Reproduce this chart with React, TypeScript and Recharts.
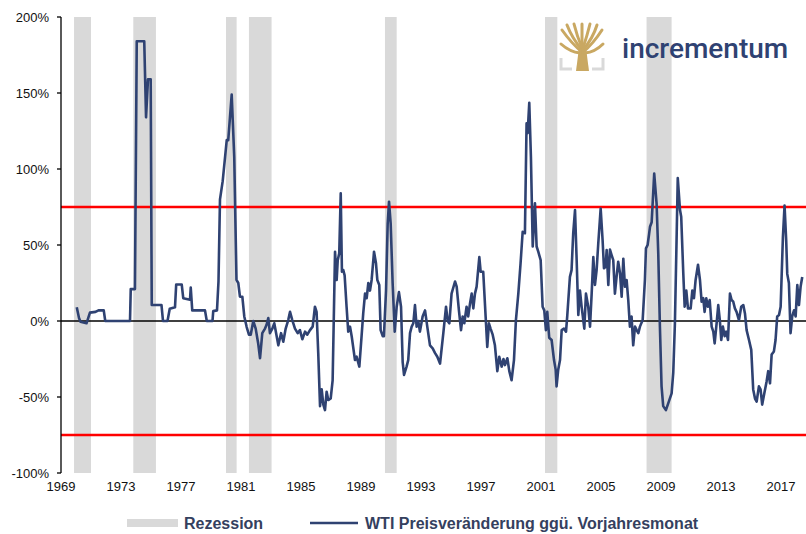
import {
  LineChart,
  Line,
  XAxis,
  YAxis,
  ReferenceArea,
  ReferenceLine,
} from 'recharts';

// Jahr (Dezimal) und WTI-Veränderung ggü. Vorjahresmonat in %
const years = [
  1970.05, 1970.2, 1970.3, 1970.7, 1970.93, 1971.3, 1971.5, 1971.85, 1971.95, 1973.6,
  1973.65, 1973.93, 1974.05, 1974.55, 1974.67, 1974.8, 1974.98, 1975.05, 1975.7, 1975.8,
  1976.1, 1976.25, 1976.6, 1976.68, 1977.05, 1977.15, 1977.6, 1977.65, 1977.75, 1978.6,
  1978.72, 1979.1, 1979.15, 1979.4, 1979.5, 1979.6, 1979.78, 1980.05, 1980.15, 1980.38,
  1980.55, 1980.7, 1980.82, 1980.93, 1981.09, 1981.22, 1981.38, 1981.53, 1981.65, 1981.82,
  1981.98, 1982.15, 1982.27, 1982.42, 1982.6, 1982.7, 1982.82, 1982.93, 1983.09, 1983.22,
  1983.38, 1983.49, 1983.67, 1983.82, 1983.98, 1984.15, 1984.27, 1984.42, 1984.6, 1984.78,
  1984.93, 1985.09, 1985.27, 1985.42, 1985.6, 1985.78, 1985.93, 1986.04, 1986.15, 1986.27,
  1986.38, 1986.49, 1986.6, 1986.71, 1986.82, 1986.98, 1987.11, 1987.27, 1987.38, 1987.45,
  1987.55, 1987.65, 1987.73, 1987.82, 1987.91, 1988.04, 1988.15, 1988.27, 1988.38, 1988.6,
  1988.71, 1988.89, 1989.04, 1989.15, 1989.27, 1989.38, 1989.49, 1989.6, 1989.71, 1989.87,
  1990.0, 1990.09, 1990.22, 1990.31, 1990.45, 1990.53, 1990.67, 1990.78, 1990.87, 1990.98,
  1991.11, 1991.25, 1991.38, 1991.53, 1991.67, 1991.78, 1991.87, 1992.04, 1992.15, 1992.27,
  1992.38, 1992.49, 1992.6, 1992.71, 1992.82, 1992.93, 1993.11, 1993.27, 1993.42, 1993.6,
  1993.78, 1993.93, 1994.09, 1994.27, 1994.49, 1994.67, 1994.78, 1994.89, 1995.04, 1995.27,
  1995.38, 1995.53, 1995.67, 1995.78, 1995.89, 1996.04, 1996.15, 1996.27, 1996.38, 1996.49,
  1996.6, 1996.71, 1996.89, 1996.98, 1997.15, 1997.31, 1997.42, 1997.53, 1997.64, 1997.78,
  1997.93, 1998.09, 1998.22, 1998.38, 1998.5, 1998.6, 1998.76, 1998.89, 1999.04, 1999.2,
  1999.33, 1999.49, 1999.64, 1999.78, 1999.93, 2000.04, 2000.11, 2000.22, 2000.33, 2000.45,
  2000.6, 2000.71, 2000.82, 2000.98, 2001.11, 2001.22, 2001.33, 2001.42, 2001.55, 2001.71,
  2001.87, 2001.98, 2002.04, 2002.15, 2002.27, 2002.38, 2002.53, 2002.67, 2002.75, 2002.93,
  2003.04, 2003.15, 2003.27, 2003.38, 2003.49, 2003.6, 2003.71, 2003.89, 2004.0, 2004.15,
  2004.27, 2004.38, 2004.49, 2004.6, 2004.71, 2004.82, 2004.98, 2005.11, 2005.2, 2005.31,
  2005.38, 2005.49, 2005.6, 2005.71, 2005.82, 2005.93, 2006.05, 2006.15, 2006.27, 2006.38,
  2006.49, 2006.6, 2006.71, 2006.82, 2006.93, 2007.04, 2007.15, 2007.27, 2007.38, 2007.49,
  2007.6, 2007.78, 2007.93, 2008.0, 2008.11, 2008.2, 2008.27, 2008.38, 2008.55, 2008.71,
  2008.82, 2008.93, 2009.04, 2009.15, 2009.33, 2009.49, 2009.71, 2009.82, 2009.93, 2010.04,
  2010.12, 2010.27, 2010.35, 2010.49, 2010.58, 2010.69, 2010.8, 2010.98, 2011.09, 2011.2,
  2011.31, 2011.47, 2011.6, 2011.71, 2011.82, 2011.91, 2012.02, 2012.13, 2012.25, 2012.38,
  2012.49, 2012.58, 2012.71, 2012.82, 2012.93, 2013.02, 2013.13, 2013.25, 2013.35, 2013.47,
  2013.6, 2013.71, 2013.82, 2013.93, 2014.04, 2014.2, 2014.35, 2014.49, 2014.6, 2014.71,
  2014.87, 2015.02, 2015.15, 2015.27, 2015.38, 2015.53, 2015.64, 2015.75, 2015.91, 2016.04,
  2016.15, 2016.27, 2016.38, 2016.53, 2016.64, 2016.75, 2016.87, 2016.98, 2017.13, 2017.24,
  2017.35, 2017.42, 2017.53, 2017.64, 2017.75, 2017.87, 2017.98, 2018.09, 2018.2, 2018.31,
  2018.42,
];

const changes = [
  9, 2, -0.5, -1.5, 5.5, 6, 7, 7, 0, 0,
  21, 21, 184, 184, 134, 159, 159, 10.5, 10.5, 0,
  0, 8, 9, 24, 24, 15, 14, 22, 7, 7,
  0, 0, 6.5, 7, 26, 80, 92, 119, 119, 149,
  108, 27, 25, 16, 16, 3, -4, -9, -9, 0,
  -5, -15, -24.5, -8, -5, -2.6, 2, -8, -5, -1.5,
  -10, -16, -8, -13.6, -5, 0.6, 6, 0.6, -5, -8,
  -6, -12, -7, -9, -6, -3.7, 9.4, 6, -21, -56,
  -45, -55, -58.6, -46.5, -52, -51, -39, 45.6, 27, 40,
  44.5, 84, 32.4, 33.5, 30, 9.4, -7, -3.7, -10, -25.7,
  -23.5, -30, -10, 5, 18, 15, 25, 20, 27, 45.6,
  38, 27, 23.7, -6, -10, -10, 20, 64, 78.5, 64,
  25, -7, 9.4, 19, 9.4, -27, -35.5, -30, -25.7, -8,
  -3.7, -1.5, 10.5, -3.7, 0, -7, 3, 7, -3.7, -16,
  -18, -21, -23.5, -28, -8, 9.4, 0, -1.5, 18, 26,
  22.6, 7, -6, 3, -1.5, 9.4, 3, 11.6, 18, 8.3,
  18, 22.6, 42, 32.4, 32.4, 3, -17, -1.5, -5, -9,
  -16, -33, -23.5, -30, -25, -29, -24.5, -33, -39, -25.7,
  0.6, 18, 38, 58.7, 57.7, 130, 123.5, 143.6, 108, 49,
  77.4, 49, 45.6, 40, 9.4, 7, -6, 6, -11, -12.5,
  -25.7, -32, -43, -32, -25.7, -6, -5, -7, 3, 29,
  33.5, 57.7, 73, 40, 4, 20, 9.4, -5, 18, 9.4,
  -3.7, 18, 42, 23.7, 33.5, 51, 74, 53, 34.7, 35.7,
  46.7, 23.7, 47, 43.4, 40, 18, 30, 39, 31.4, 16,
  41, 22.6, 27, 13.8, -3.7, 3, -16, -3.7, -6, -8,
  -3.7, 0.6, 27, 47.8, 50, 56.6, 62, 65, 97, 77,
  44.5, -3.7, -43, -56, -58.6, -54, -47.6, -34, -1.5, 53,
  94, 73, 68.6, 31, 9.4, 20, 8.3, 8.3, 20, 15,
  27, 37, 27, 12.7, 15, 6, 15, 9.4, 13.8, -3.7,
  -7, -14.7, -1.5, 10.5, 0, -12.5, -3.7, -10, -7, -12.5,
  18, 13.8, 12.7, 8.3, 6, 0.6, 9.4, 10.5, 5, -6,
  -12.5, -19, -45, -51, -53, -43, -45, -55, -46.5, -40,
  -33, -41, -22, -20, -12.5, 3, 4, 9.4, 55, 76,
  53, 31, 25, -8, 3, 7, 3, 23.7, 10.5, 22.6,
  29,
];

// Rezessionsphasen (Beginn / Ende, dezimale Jahre)
const recessionStarts = [1969.87, 1973.82, 1980.0, 1981.53, 1990.6, 2001.27, 2008.04];
const recessionEnds = [1971.0, 1975.33, 1980.71, 1983.04, 1991.38, 2002.09, 2009.71];

const xTicks = [1969, 1973, 1977, 1981, 1985, 1989, 1993, 1997, 2001, 2005, 2009, 2013, 2017];
const yTicks = [-100, -50, 0, 50, 100, 150, 200];

const NAVY = '#2f4272';
const GOLD = '#c9a862';
const FONT = '"Liberation Sans", Arial, sans-serif';

const data = years.map((year, i) => ({ year, change: changes[i] }));

const Logo = () => (
  <g>
    <path d="M561,58 V69 H572" fill="none" stroke="#d9d9d9" strokeWidth={3} />
    <path d="M603,58 V69 H592" fill="none" stroke="#d9d9d9" strokeWidth={3} />
    <polygon points="576,71 589,71 586,48 579,48" fill={GOLD} />
    <g stroke={GOLD} strokeWidth={3} strokeLinecap="round" fill="none">
      <path d="M582,52 Q572,44 562,30" />
      <path d="M582,50 Q572,38 567,25" />
      <path d="M582,48 Q577,36 574,24" />
      <path d="M582,48 V24" />
      <path d="M583,48 Q587,36 590,24" />
      <path d="M583,50 Q593,38 597,25" />
      <path d="M583,52 Q593,44 602,30" />
      <path d="M580,53 Q570,52 561,44" />
      <path d="M585,53 Q595,52 603,44" />
    </g>
    <text
      x={622}
      y={58}
      fontFamily="Roboto, Arial, sans-serif"
      fontWeight={500}
      fontSize={28}
      fill={NAVY}
    >
      incrementum
    </text>
  </g>
);

const App = () => {
  return (
    <div style={{ position: 'absolute', left: 0, top: 0, width: 806, height: 534, background: '#fff' }}>
      <LineChart
        width={806}
        height={534}
        data={data}
        margin={{ top: 17, right: 0, bottom: 31, left: 0 }}
      >
        {recessionStarts.map((start, i) => (
          <ReferenceArea
            key={start}
            x1={start}
            x2={recessionEnds[i]}
            y1={-100}
            y2={200}
            fill="#d9d9d9"
            fillOpacity={1}
            stroke="none"
          />
        ))}
        <XAxis
          dataKey="year"
          type="number"
          domain={[1969, 2018.67]}
          ticks={xTicks}
          allowDataOverflow
          axisLine={false}
          tickLine={false}
          height={30}
          tickMargin={3}
          tick={{ fill: '#111', fontSize: 13, fontFamily: FONT }}
        />
        <YAxis
          type="number"
          domain={[-100, 200]}
          ticks={yTicks}
          width={61}
          tickFormatter={(v) => `${v}%`}
          axisLine={{ stroke: '#000', strokeWidth: 1.3 }}
          tickLine={{ stroke: '#000', strokeWidth: 1.3 }}
          tickSize={4}
          tickMargin={8}
          tick={{ fill: '#111', fontSize: 13, fontFamily: FONT }}
        />
        <ReferenceLine y={0} stroke="#000" strokeWidth={1.5} />
        <ReferenceLine y={75} stroke="#ff0000" strokeWidth={2.5} />
        <ReferenceLine y={-75} stroke="#ff0000" strokeWidth={2.5} />
        <Line
          type="linear"
          dataKey="change"
          stroke={NAVY}
          strokeWidth={2.6}
          strokeLinejoin="round"
          dot={false}
          isAnimationActive={false}
        />
      </LineChart>
      <svg
        width={806}
        height={534}
        style={{ position: 'absolute', left: 0, top: 0, pointerEvents: 'none' }}
      >
        <Logo />
        <rect x={127} y={519} width={51} height={8} fill="#d9d9d9" />
        <text x={184} y={529} fontFamily={FONT} fontWeight="bold" fontSize={16} fill="#34405e">
          Rezession
        </text>
        <line x1={310} y1={523} x2={358} y2={523} stroke={NAVY} strokeWidth={2.6} />
        <text x={365} y={529} fontFamily={FONT} fontWeight="bold" fontSize={16} fill="#34405e">
          WTI Preisveränderung ggü. Vorjahresmonat
        </text>
      </svg>
    </div>
  );
};

export default App;
